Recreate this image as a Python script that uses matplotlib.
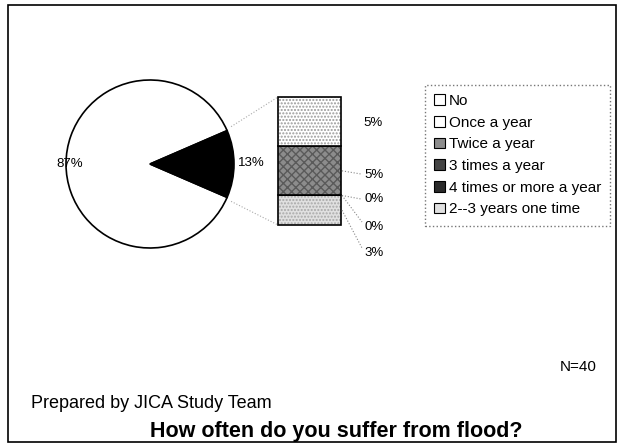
import matplotlib
matplotlib.use('Agg')
import matplotlib.pyplot as plt
from matplotlib.patches import Rectangle, Patch
import math

# ---- data ----
pie_labels = ['No', 'Other']
pie_values = [87, 13]
bar_categories = ['Once a year', 'Twice a year', '3 times a year',
                  '4 times or more a year', '2--3 years one time']
bar_values = [5, 5, 0, 0, 3]
legend_labels = ['No'] + bar_categories
n_text = 'N=40'
source_text = 'Prepared by JICA Study Team'
title_text = 'How often do you suffer from flood?'

plt.rcParams['font.family'] = ['Liberation Sans', 'DejaVu Sans']

W, H = 619, 446
fig = plt.figure(figsize=(W / 100, H / 100), dpi=100)
ax = fig.add_axes([0, 0, 1, 1])

def Y(y):
    return H - y

# ---- pie ----
total = sum(pie_values)
start = 180.0 * pie_values[1] / total
cx, cy, r = 150, Y(164), 84
wedges, _ = ax.pie(pie_values, colors=['white', 'black'], startangle=start,
                   center=(cx, cy), radius=r, frame=True,
                   wedgeprops=dict(edgecolor='black', linewidth=1.2))
ax.text(70, Y(164), f'{pie_values[0]}%', ha='center', va='center', fontsize=9.5)
ax.text(251, Y(163), f'{pie_values[1]}%', ha='center', va='center', fontsize=9.5)

# ---- bar of pie ----
bx, bw = 278, 63
bottom = Y(225)
scale = 128.0 / sum(bar_values)
styles = {
    'Once a year': dict(face='white', hatch='.....', hc='#9a9a9a'),
    'Twice a year': dict(face='#8c8c8c', hatch='xxxx', hc='#5a5a5a'),
    '3 times a year': dict(face='#444444', hatch='', hc='#444444'),
    '4 times or more a year': dict(face='#2a2a2a', hatch='', hc='#2a2a2a'),
    '2--3 years one time': dict(face='#e0e0e0', hatch='.....', hc='#a8a8a8'),
}
seg_mid = {}
b = bottom
for cat, val in reversed(list(zip(bar_categories, bar_values))):
    h = val * scale
    st = styles[cat]
    ax.bar(bx, h, width=bw, bottom=b, align='edge', color=st['face'],
           edgecolor=st['hc'], hatch=st['hatch'], linewidth=0)
    ax.bar(bx, h, width=bw, bottom=b, align='edge', fill=False,
           edgecolor='black', linewidth=1.2)
    seg_mid[cat] = b + h / 2
    b += h
top = b

# bar labels and leader lines
label_pos = {
    'Once a year': (373, Y(123)),
    'Twice a year': (374, Y(175)),
    '3 times a year': (374, Y(199)),
    '4 times or more a year': (374, Y(227)),
    '2--3 years one time': (374, Y(253)),
}
line_end = {
    'Twice a year': (361, Y(174)),
    '3 times a year': (361, Y(199)),
    '4 times or more a year': (362, Y(222)),
    '2--3 years one time': (362, Y(248)),
}
for cat, val in zip(bar_categories, bar_values):
    lx, ly = label_pos[cat]
    ax.text(lx, ly, f'{val}%', ha='center', va='center', fontsize=9.5)
    if cat in line_end:
        ex, ey = line_end[cat]
        ax.plot([bx + bw + 1, ex], [seg_mid[cat], ey], color='#888888',
                linestyle=':', linewidth=0.8)

# connector lines pie -> bar
a = math.radians(start)
ax.plot([cx + r * math.cos(a) + 4, bx], [cy + r * math.sin(a) + 4, top],
        color='#aaaaaa', linestyle=':', linewidth=0.8)
ax.plot([cx + r * math.cos(a) + 4, bx], [cy - r * math.sin(a) - 4, bottom],
        color='#aaaaaa', linestyle=':', linewidth=0.8)

# ---- legend ----
leg_colors = ['white', 'white', '#8c8c8c', '#444444', '#2a2a2a', '#e0e0e0']
handles = [Patch(facecolor=c, edgecolor='black', linewidth=0.8) for c in leg_colors]
leg = fig.legend(handles, legend_labels, loc='upper left',
                 bbox_to_anchor=(425 / W, 1 - 85 / H), frameon=True,
                 fancybox=False, fontsize=11, handlelength=0.7,
                 handleheight=0.7, handletextpad=0.25, labelspacing=0.5,
                 borderpad=0.6, borderaxespad=0)
fr = leg.get_frame()
fr.set_edgecolor('#555555')
fr.set_linestyle(':')
fr.set_linewidth(1.0)

# ---- texts ----
ax.text(597, Y(367), n_text, ha='right', va='center', fontsize=11)
ax.text(31, Y(404), source_text, ha='left', va='center', fontsize=13)
ax.text(336, Y(431), title_text, ha='center', va='center', fontsize=15.5,
        fontweight='bold')

# ---- border ----
ax.add_patch(Rectangle((8, Y(442)), 608, 437, fill=False, edgecolor='black',
                       linewidth=1.2))

ax.set_xlim(0, W)
ax.set_ylim(0, H)
ax.set_aspect('auto')
ax.axis('off')

fig.savefig('out.png', dpi=100)
